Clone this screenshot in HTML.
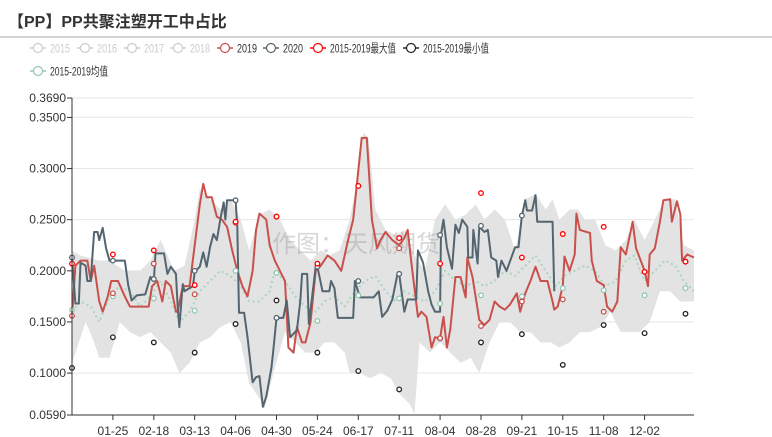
<!DOCTYPE html>
<html><head><meta charset="utf-8"><style>
body{margin:0;background:#fff;font-family:"Liberation Sans","Noto Sans CJK SC",sans-serif}
#wrap{position:relative;width:772px;height:437px;overflow:hidden}
</style></head><body><div id="wrap">
<svg id="chart" width="772" height="437" style="position:absolute;left:0;top:0"></svg>
</div>
<script>
const xTickLabels=["01-25","02-18","03-13","04-06","04-30","05-24","06-17","07-11","08-04","08-28","09-21","10-15","11-08","12-02"];
const xTickDays=[24,48,72,96,120,144,168,192,216,240,264,288,312,336];
const yTicks=[0.059,0.1,0.15,0.2,0.25,0.3,0.35,0.369];
const s2019Days=[0,2,5,9,11,13,16,18,21,23,27,31,34,40,45,47,50,53,55,58,61,62,65,69,72,75,77,79,82,85,88,91,94,97,100,103,106,108,110,114,116,119,122,125,127,130,132,135,137,140,143,146,150,154,158,162,165,167,170,173,176,179,181,184,188,192,195,197,199,203,205,208,211,213,216,218,220,222,225,228,231,232,235,239,242,245,248,251,254,257,261,263,266,269,272,275,279,282,283,285,288,289,292,295,296,298,304,305,308,312,314,317,320,322,325,329,331,336,338,339,342,345,347,351,352,355,357,358,361,365];
const s2019Vals=[0.155,0.205,0.21,0.21,0.19,0.205,0.17,0.16,0.175,0.19,0.19,0.175,0.165,0.165,0.165,0.185,0.19,0.17,0.19,0.185,0.16,0.16,0.185,0.185,0.225,0.265,0.285,0.272,0.272,0.253,0.25,0.243,0.22,0.2,0.185,0.175,0.2,0.24,0.256,0.25,0.225,0.21,0.2,0.19,0.125,0.12,0.145,0.13,0.13,0.15,0.2,0.205,0.215,0.21,0.2,0.23,0.25,0.282,0.33,0.33,0.25,0.222,0.23,0.238,0.23,0.225,0.232,0.24,0.21,0.155,0.16,0.155,0.125,0.135,0.134,0.155,0.125,0.143,0.194,0.194,0.174,0.213,0.194,0.152,0.147,0.152,0.17,0.165,0.162,0.167,0.178,0.16,0.178,0.19,0.204,0.19,0.19,0.17,0.162,0.165,0.185,0.214,0.2,0.216,0.256,0.24,0.237,0.21,0.19,0.186,0.165,0.16,0.17,0.223,0.216,0.248,0.222,0.2,0.185,0.216,0.222,0.248,0.269,0.27,0.248,0.268,0.255,0.21,0.216,0.213];
const s2020Days=[0,2,4,5,8,9,11,12,13,15,16,18,20,22,31,33,35,38,43,46,48,49,54,56,58,61,62,63,65,66,71,72,75,77,79,81,83,85,87,89,90,91,96,97,98,101,103,106,108,110,112,114,117,118,120,124,126,128,132,134,135,138,139,143,144,147,151,152,154,156,165,166,169,177,180,182,185,188,191,192,195,197,202,203,206,209,211,213,216,216.5,218,220,223,225,227,229,232,232.5,235,235.5,238,239,242,244,246,249,250,252,255,260,262,264,266,267,270,272,273,282,283];
const s2020Vals=[0.213,0.168,0.168,0.208,0.205,0.19,0.19,0.215,0.238,0.238,0.23,0.242,0.222,0.21,0.21,0.186,0.171,0.176,0.177,0.194,0.19,0.217,0.217,0.197,0.204,0.197,0.165,0.145,0.187,0.18,0.185,0.199,0.204,0.218,0.204,0.223,0.236,0.23,0.25,0.267,0.25,0.269,0.269,0.243,0.159,0.159,0.135,0.091,0.096,0.097,0.067,0.077,0.105,0.12,0.154,0.154,0.171,0.135,0.142,0.171,0.197,0.197,0.148,0.204,0.204,0.18,0.18,0.19,0.183,0.154,0.154,0.19,0.174,0.174,0.18,0.155,0.161,0.172,0.197,0.197,0.16,0.172,0.172,0.22,0.208,0.18,0.167,0.16,0.16,0.235,0.25,0.223,0.202,0.245,0.237,0.25,0.243,0.213,0.213,0.24,0.207,0.243,0.238,0.24,0.213,0.21,0.194,0.21,0.2,0.223,0.223,0.254,0.269,0.259,0.259,0.274,0.248,0.248,0.18];
const bandUpDays=[0,5,16,22,31,40,46,52,60,66,72,75,81,87,93,99,104,110,116,122,128,134,140,146,151,157,163,167,171,174,178,184,190,195,201,207,213,219,225,231,237,242,248,254,260,266,272,278,282,286,292,297,301,307,313,319,325,330,336,342,348,354,359,365];
const bandUpVals=[0.22,0.215,0.21,0.21,0.2,0.2,0.21,0.23,0.2,0.205,0.25,0.28,0.27,0.26,0.27,0.25,0.22,0.255,0.26,0.25,0.23,0.22,0.21,0.22,0.215,0.22,0.25,0.285,0.335,0.33,0.26,0.24,0.235,0.24,0.215,0.2,0.25,0.265,0.25,0.255,0.265,0.25,0.26,0.25,0.22,0.27,0.275,0.26,0.27,0.25,0.26,0.26,0.25,0.25,0.225,0.22,0.23,0.25,0.23,0.25,0.27,0.27,0.225,0.22];
const bandLoDays=[0,4,8,13,16,22,28,34,40,46,52,58,63,69,75,81,87,93,99,104,110,113,119,125,131,137,143,148,154,160,163,169,175,181,187,192,198,201,204,210,216,222,228,234,239,245,251,257,263,269,275,281,286,292,298,304,310,316,322,327,333,339,345,351,357,362,365];
const bandLoVals=[0.11,0.13,0.15,0.13,0.115,0.115,0.15,0.14,0.135,0.14,0.13,0.12,0.1,0.11,0.13,0.135,0.145,0.15,0.13,0.09,0.075,0.065,0.105,0.14,0.13,0.12,0.12,0.13,0.13,0.12,0.1,0.1,0.095,0.1,0.095,0.08,0.07,0.06,0.13,0.12,0.13,0.12,0.11,0.115,0.1,0.13,0.15,0.15,0.14,0.14,0.13,0.13,0.125,0.13,0.14,0.14,0.145,0.16,0.14,0.14,0.14,0.15,0.18,0.18,0.17,0.17,0.17];
const avgDays=[0,5,11,16,22,28,34,40,46,52,58,63,69,75,81,87,93,99,104,110,116,119,125,131,137,143,148,154,160,166,172,178,184,190,195,201,207,213,219,225,231,237,242,248,254,260,266,272,278,284,289,295,301,307,313,319,325,330,336,342,348,354,359,365];
const avgVals=[0.16,0.17,0.165,0.15,0.175,0.185,0.18,0.165,0.175,0.19,0.17,0.15,0.16,0.18,0.19,0.2,0.195,0.185,0.17,0.17,0.18,0.2,0.19,0.175,0.165,0.16,0.17,0.175,0.165,0.18,0.19,0.195,0.18,0.17,0.18,0.175,0.17,0.18,0.2,0.19,0.185,0.19,0.185,0.19,0.2,0.195,0.205,0.215,0.2,0.185,0.195,0.2,0.205,0.2,0.185,0.19,0.21,0.215,0.19,0.2,0.21,0.205,0.19,0.18];
const markerDays=[0,24,48,72,96,120,144,168,192,216,240,264,288,312,336,360];
const maxMarks=[0.207,0.216,0.22,0.186,0.248,0.253,0.207,0.283,0.232,0.207,0.276,0.213,0.236,0.243,0.199,0.209];
const minMarks=[0.105,0.135,0.13,0.12,0.148,0.171,0.12,0.102,0.084,0.134,0.13,0.138,0.108,0.147,0.139,0.158];
const avgMarks=[0.162,0.175,0.173,0.161,0.2,0.198,0.151,0.176,0.173,0.168,0.176,0.175,0.183,0.181,0.176,0.183];
const m2019=[0.156,0.178,0.207,0.177,0.247,0.253,0.207,0.283,0.222,0.134,0.146,0.17,0.172,0.16,0.199,0.209];
const m2020=[0.213,0.21,0.192,0.2,0.269,0.154,0.204,0.19,0.197,0.235,0.244,0.254];

const NS="http://www.w3.org/2000/svg",svg=document.getElementById('chart');
const X0=72,X1=694,Y0=415,Y1=98,VMIN=0.059,VMAX=0.369;
const xs=d=>X0+d*(X1-X0)/365, ys=v=>Y0-(v-VMIN)*(Y0-Y1)/(VMAX-VMIN);
function mk(tag,at,parent){const e=document.createElementNS(NS,tag);for(const k in at)e.setAttribute(k,at[k]);(parent||svg).appendChild(e);return e;}
function txt(t,at){const e=mk('text',at);e.textContent=t;return e;}
let t=txt('【PP】PP共聚注塑开工中占比',{x:8,y:27,'font-size':16,'font-weight':'bold',fill:'#333'});


let hl=mk('line',{x1:0,y1:37,x2:772,y2:37,stroke:'#aaa','stroke-width':1});


const legItems=[["2015",30,48,'#ccc','#ccc',20],["2016",77,48,'#ccc','#ccc',20],["2017",124,48,'#ccc','#ccc',20],["2018",170,48,'#ccc','#ccc',20],["2019",217,48,'#c9504b','#333',20],["2020",263,48,'#546570','#333',20],["2015-2019最大值",310,48,'#f00','#333',66],["2015-2019最小值",403,48,'#222','#333',66],["2015-2019均值",30,71,'#91c7ae','#333',58]];
legItems.forEach(it=>{const g=mk('g',{});


mk('line',{x1:it[1],y1:it[2],x2:it[1]+16,y2:it[2],stroke:it[3],'stroke-width':1.5},g);
mk('circle',{cx:it[1]+8,cy:it[2],r:4.5,fill:'#fff',stroke:it[3],'stroke-width':1.2},g);
const tt=mk('text',{x:it[1]+20,y:it[2]+4.5,'font-size':12,fill:it[4],textLength:it[5],lengthAdjust:'spacingAndGlyphs'},g);tt.textContent=it[0];});
yTicks.forEach(v=>{const y=ys(v);
const gl=mk('line',{x1:X0,y1:y,x2:X1,y2:y,stroke:'#e6e6e6','stroke-width':1});


mk('line',{x1:X0-5,y1:y,x2:X0,y2:y,stroke:'#333'});
const l=txt(v.toFixed(4),{x:X0-6,y:y+4,'font-size':12,fill:'#333','text-anchor':'end'});

});
let pts=bandUpDays.map((d,i)=>xs(d)+','+ys(bandUpVals[i]));
for(let i=bandLoDays.length-1;i>=0;i--)pts.push(xs(bandLoDays[i])+','+ys(bandLoVals[i]));
const band=mk('polygon',{points:pts.join(' '),fill:'#e3e3e3'});


const wm=txt('作图：天风期货',{x:272,y:252,'font-size':24,fill:'rgba(140,140,140,0.35)'});


function line(days,vals,color,w,dash,name){const p=mk('polyline',{points:days.map((d,i)=>xs(d)+','+ys(vals[i])).join(' '),fill:'none',stroke:color,'stroke-width':w,'stroke-linejoin':'round'});if(dash)p.setAttribute('stroke-dasharray',dash);

}
line(avgDays,avgVals,'#a9d5c2',2,'2 3','avg-line');
line(s2019Days,s2019Vals,'#c9504b',2,null,'line-2019');
line(s2020Days,s2020Vals,'#546570',2,null,'line-2020');
function marks(vals,color,name){vals.forEach((v,i)=>{const c=mk('circle',{cx:xs(markerDays[i]),cy:ys(v),r:2.3,fill:'#fff',stroke:color,'stroke-width':1.3});

});}
marks(avgMarks,'#91c7ae','avg-point');
marks(minMarks,'#222','min-point');
marks(m2020,'#546570','point-2020');
marks(m2019,'#c9504b','point-2019');
marks(maxMarks,'#f00','max-point');
const ya=mk('line',{x1:X0,y1:Y1,x2:X0,y2:Y0,stroke:'#333','stroke-width':1});


const xa=mk('line',{x1:X0,y1:Y0,x2:X1,y2:Y0,stroke:'#333','stroke-width':1});


xTickDays.forEach((d,i)=>{const x=xs(d);mk('line',{x1:x,y1:Y0,x2:x,y2:Y0+5,stroke:'#333'});
const l=txt(xTickLabels[i],{x:x,y:Y0+20,'font-size':12,fill:'#333','text-anchor':'middle'});

});
</script></body></html>
